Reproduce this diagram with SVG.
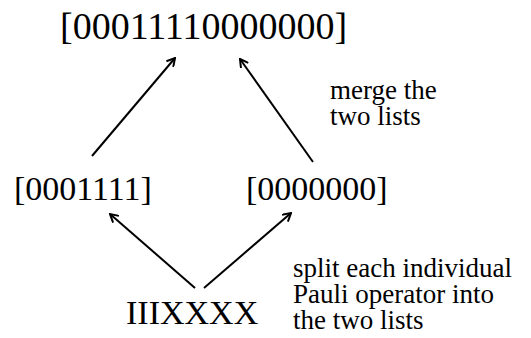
<svg xmlns="http://www.w3.org/2000/svg" width="531" height="338" viewBox="0 0 531 338">
<defs>
<style>
.t{font-family:"Liberation Serif","Times New Roman",serif;fill:#000}
.big{font-size:38px}
.mid{font-size:34px}
.note{font-size:27px}
.c{stroke:#000;stroke-width:2;fill:none;marker-end:url(#ah)}
</style>
<marker id="ah" viewBox="0 0 10 10" refX="9" refY="5" markerWidth="10" markerHeight="10" markerUnits="userSpaceOnUse" orient="auto">
<path d="M1,0.5 L9,5 L1,9.5" fill="none" stroke="#000" stroke-width="2"/>
</marker>
</defs>
<rect width="531" height="338" fill="#fff"/>
<g id="connectors">
<line class="c" x1="92" y1="156" x2="175" y2="58"/>
<line class="c" x1="313" y1="162" x2="240" y2="59"/>
<line class="c" x1="195" y1="288" x2="110" y2="214"/>
<line class="c" x1="204" y1="288" x2="291" y2="213"/>
</g>
<g id="merged"><text class="t big" x="60" y="39">[00011110000000]</text></g>
<g id="list1"><text class="t mid" x="14" y="200">[0001111]</text></g>
<g id="list2"><text class="t mid" x="246" y="200">[0000000]</text></g>
<g id="pauli"><text class="t mid" x="126" y="324">IIIXXXX</text></g>
<g id="merge-note"><text class="t note" x="330" y="99">merge the</text><text class="t note" x="330" y="125">two lists</text></g>
<g id="split-note"><text class="t note" x="293" y="277">split each individual</text><text class="t note" x="293" y="303">Pauli operator into</text><text class="t note" x="293" y="329">the two lists</text></g>
</svg>
